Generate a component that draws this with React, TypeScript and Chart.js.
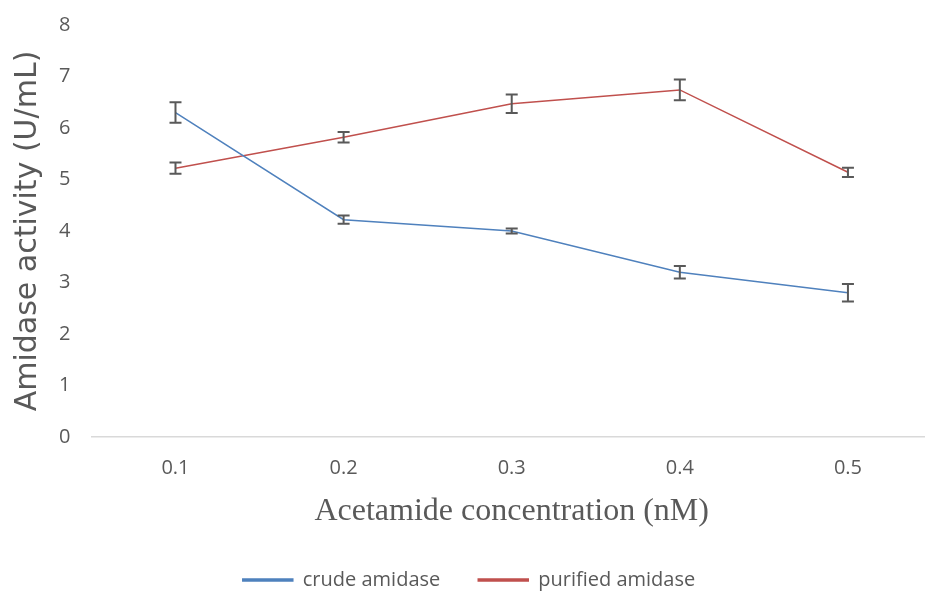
import React, { useEffect, useRef } from "react";
import { Chart, registerables } from "chart.js";

Chart.register(...registerables);

const categories = ["0.1", "0.2", "0.3", "0.4", "0.5"];
const crudeValues = [6.3, 4.22, 4.0, 3.2, 2.8];
const crudeErrors = [0.2, 0.08, 0.05, 0.12, 0.17];
const purifiedValues = [5.22, 5.82, 6.47, 6.74, 5.14];
const purifiedErrors = [0.11, 0.1, 0.18, 0.2, 0.09];
const yTicks = [0, 1, 2, 3, 4, 5, 6, 7, 8];

const errorBarPlugin = {
  id: "errorBars",
  afterDatasetsDraw(chart: any) {
    const ctx = chart.ctx;
    const xs = chart.scales.x;
    const ys = chart.scales.y;
    ctx.save();
    ctx.strokeStyle = "#595959";
    ctx.lineWidth = 2;
    chart.data.datasets.forEach((ds: any) => {
      const errs: number[] = ds.errors || [];
      ds.data.forEach((v: number, i: number) => {
        const e = errs[i];
        if (e == null) return;
        const x = xs.getPixelForValue(i);
        const yt = ys.getPixelForValue(v + e);
        const yb = ys.getPixelForValue(v - e);
        ctx.beginPath();
        ctx.moveTo(x, yt);
        ctx.lineTo(x, yb);
        ctx.moveTo(x - 6, yt);
        ctx.lineTo(x + 6, yt);
        ctx.moveTo(x - 6, yb);
        ctx.lineTo(x + 6, yb);
        ctx.stroke();
      });
    });
    ctx.restore();
  },
};

export default function App() {
  const ref = useRef<HTMLCanvasElement>(null);
  useEffect(() => {
    if (!ref.current) return;
    const chart = new Chart(ref.current, {
      type: "line",
      data: {
        labels: categories,
        datasets: [
          {
            label: "crude amidase",
            data: crudeValues,
            errors: crudeErrors,
            borderColor: "#4F81BD",
            backgroundColor: "#4F81BD",
            borderWidth: 1.5,
            pointRadius: 0,
            tension: 0,
          } as any,
          {
            label: "purified amidase",
            data: purifiedValues,
            errors: purifiedErrors,
            borderColor: "#C0504D",
            backgroundColor: "#C0504D",
            borderWidth: 1.5,
            pointRadius: 0,
            tension: 0,
          } as any,
        ],
      },
      options: {
        animation: false,
        responsive: false,
        maintainAspectRatio: false,
        layout: { padding: { left: 6, right: 0, top: 25, bottom: -7 } },
        plugins: {
          legend: {
            position: "bottom",
            labels: {
              boxWidth: 50,
              boxHeight: 2,
              padding: 38,
              color: "#595959",
              font: { family: "Open Sans", size: 20 },
            },
          },
          tooltip: { enabled: false },
        },
        scales: {
          x: {
            offset: true,
            afterFit: (scale: any) => {
              scale.paddingRight = 0;
            },
            grid: { display: false, drawTicks: false },
            border: { display: true, color: "#D9D9D9", width: 1.5 },
            ticks: {
              color: "#595959",
              padding: 19,
              font: { family: "Open Sans", size: 20 },
            },
            title: {
              display: true,
              text: "Acetamide concentration (nM)",
              color: "#595959",
              font: { family: "Liberation Serif", size: 32, lineHeight: 1 },
              padding: { top: -3, bottom: 4 },
            },
          },
          y: {
            min: 0,
            max: 8,
            afterBuildTicks: (axis: any) => {
              axis.ticks = yTicks.map((v) => ({ value: v }));
            },
            afterFit: (scale: any) => {
              scale.paddingTop = 0;
              scale.paddingBottom = 0;
            },
            grid: { display: false, drawTicks: false },
            border: { display: false },
            ticks: {
              color: "#595959",
              padding: 21,
              font: { family: "Open Sans", size: 20 },
            },
            title: {
              display: true,
              text: "Amidase activity (U/mL)",
              color: "#595959",
              font: { family: "DejaVu Sans", size: 30, lineHeight: 1 },
              padding: { top: 7, bottom: -5 },
            },
          },
        },
      } as any,
      plugins: [errorBarPlugin],
    });
    return () => chart.destroy();
  }, []);
  return (
    <div style={{ position: "fixed", left: 0, top: 0, width: 925, height: 593, overflow: "hidden" }}>
      <canvas ref={ref} width={932} height={593} style={{ display: "block" }} />
    </div>
  );
}
